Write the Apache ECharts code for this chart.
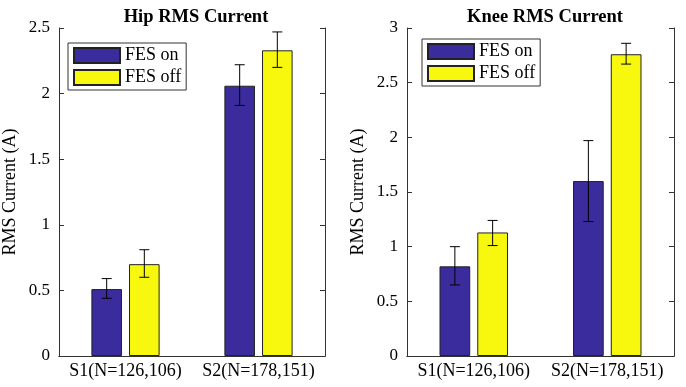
<!DOCTYPE html>
<html>
<head>
<meta charset="utf-8">
<script src="https://cdn.jsdelivr.net/npm/echarts@6/dist/echarts.min.js"></script>
<style>
  html, body { margin: 0; padding: 0; background: #fff; }
  #chart { width: 686px; height: 387px; }
</style>
</head>
<body>
<div id="chart"></div>
<script>
const categories = ["S1(N=126,106)", "S2(N=178,151)"];

const hipOn = [0.51, 2.06];
const hipOff = [0.70, 2.33];
const hipOnErr = [[0.44, 0.59], [1.91, 2.22]];
const hipOffErr = [[0.60, 0.81], [2.20, 2.47]];

const kneeOn = [0.82, 1.60];
const kneeOff = [1.13, 2.76];
const kneeOnErr = [[0.65, 1.00], [1.23, 1.97]];
const kneeOffErr = [[1.01, 1.24], [2.67, 2.86]];

const hipTicks = [0, 2.5, 0.5];   // min, max, interval
const kneeTicks = [0, 3, 0.5];

const blue = "#3b2c9e";
const yellow = "#f8f80e";
const font = "Liberation Serif";

const BAR_W = 0.23;
const BAR_GAP = 0.23;
const centerShift = (BAR_W + BAR_W * BAR_GAP) / 2;

const chart = echarts.init(document.getElementById("chart"));

function errSeries(name, gi, err, sign) {
  return {
    type: "custom",
    name: name + " err",
    xAxisIndex: gi * 2,
    yAxisIndex: gi * 2,
    z: 5,
    encode: {x: 0, y: [1, 2]},
    data: err.map((e, i) => [i, e[0], e[1]]),
    renderItem: (params, api) => {
      const bw = api.size([1, 0])[0];
      const lo = api.coord([api.value(0), api.value(1)]);
      const hi = api.coord([api.value(0), api.value(2)]);
      const x = lo[0] + sign * centerShift * bw;
      const cap = 5;
      const style = {stroke: "#000", lineWidth: 1};
      return {
        type: "group",
        children: [
          {type: "line", shape: {x1: x, y1: lo[1], x2: x, y2: hi[1]}, style},
          {type: "line", shape: {x1: x - cap, y1: lo[1], x2: x + cap, y2: lo[1]}, style},
          {type: "line", shape: {x1: x - cap, y1: hi[1], x2: x + cap, y2: hi[1]}, style}
        ]
      };
    }
  };
}

function barSeries(name, gi, data, color) {
  return {
    type: "bar",
    name: name,
    xAxisIndex: gi * 2,
    yAxisIndex: gi * 2,
    barWidth: (BAR_W * 100) + "%",
    barGap: (BAR_GAP * 100) + "%",
    itemStyle: {color: color, borderColor: "#222", borderWidth: 1},
    data: data
  };
}

function yAxes(gi, ticks) {
  const base = {
    type: "value",
    gridIndex: gi,
    min: ticks[0],
    max: ticks[1],
    interval: ticks[2],
    splitLine: {show: false},
    axisLine: {show: true, lineStyle: {color: "#333"}},
    axisTick: {show: true, inside: true, length: 5, lineStyle: {color: "#333"}}
  };
  return [
    Object.assign({}, base, {
      position: "left",
      name: "RMS Current (A)",
      nameLocation: "middle",
      nameGap: 40,
      nameTextStyle: {fontFamily: font, fontSize: 18, color: "#000"},
      axisLabel: {fontFamily: font, fontSize: 17, color: "#000", margin: 9}
    }),
    Object.assign({}, base, {position: "right", axisLabel: {show: false}})
  ];
}

function xAxes(gi) {
  return [
    {
      type: "category",
      gridIndex: gi,
      data: categories,
      position: "bottom",
      axisLine: {show: true, lineStyle: {color: "#333"}},
      axisTick: {show: false},
      axisLabel: {fontFamily: font, fontSize: 18, color: "#000", margin: 6, interval: 0, hideOverlap: false}
    },
    {
      type: "category",
      gridIndex: gi,
      data: categories,
      position: "top",
      axisLine: {show: true, lineStyle: {color: "#333"}},
      axisTick: {show: false},
      axisLabel: {show: false}
    }
  ];
}

function legend(left, top) {
  return {
    data: ["FES on", "FES off"],
    orient: "vertical",
    left: left,
    top: top,
    icon: "rect",
    itemWidth: 46,
    itemHeight: 15,
    itemGap: 3,
    padding: [3, 5, 3, 5],
    borderColor: "#333",
    borderWidth: 1,
    backgroundColor: "#fff",
    selectedMode: false,
    textStyle: {fontFamily: font, fontSize: 18, color: "#000", lineHeight: 19}
  };
}

const option = {
  animation: false,
  title: [
    {
      text: "Hip RMS Current",
      left: 191,
      top: 3,
      textAlign: "center",
      textStyle: {fontFamily: font, fontSize: 18.5, fontWeight: "bold", color: "#000"}
    },
    {
      text: "Knee RMS Current",
      left: 540,
      top: 3,
      textAlign: "center",
      textStyle: {fontFamily: font, fontSize: 18.5, fontWeight: "bold", color: "#000"}
    }
  ],
  legend: [legend(68, 43), legend(422, 39)],
  grid: [
    {left: 57, right: 361, top: 28, bottom: 31},
    {left: 407, right: 12, top: 28, bottom: 31}
  ],
  xAxis: [...xAxes(0), ...xAxes(1)],
  yAxis: [...yAxes(0, hipTicks), ...yAxes(1, kneeTicks)],
  series: [
    barSeries("FES on", 0, hipOn, blue),
    barSeries("FES off", 0, hipOff, yellow),
    errSeries("FES on", 0, hipOnErr, -1),
    errSeries("FES off", 0, hipOffErr, 1),
    barSeries("FES on", 1, kneeOn, blue),
    barSeries("FES off", 1, kneeOff, yellow),
    errSeries("FES on", 1, kneeOnErr, -1),
    errSeries("FES off", 1, kneeOffErr, 1)
  ]
};

chart.setOption(option);
</script>
</body>
</html>
